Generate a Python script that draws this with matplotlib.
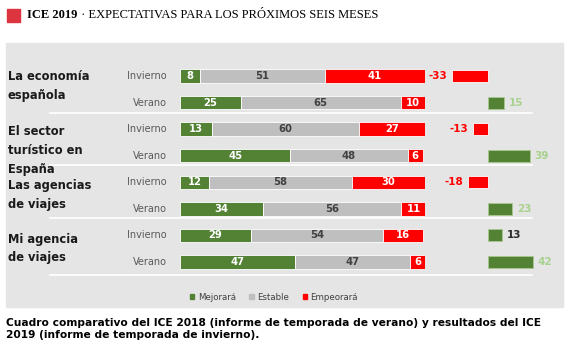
import numpy as np
import matplotlib.pyplot as plt
from matplotlib.patches import Rectangle, Patch
from matplotlib.lines import Line2D

# Data
groups = ["La economía\nespañola", "El sector\nturístico en\nEspaña",
          "Las agencias\nde viajes", "Mi agencia\nde viajes"]
seasons = ["Invierno", "Verano"]
mejorara = [8, 25, 13, 45, 12, 34, 29, 47]
estable = [51, 65, 60, 48, 58, 56, 54, 47]
empeorara = [41, 10, 27, 6, 30, 11, 16, 6]
saldo = [-33, 15, -13, 39, -18, 23, 13, 42]

W, H = 567, 353
green = "#548235"
grey = "#bfbfbf"
red = "#ff0000"

fig = plt.figure(figsize=(W / 100, H / 100), dpi=100)

def fx(px):
    return px / W

def fy(py):
    return 1 - py / H

# grey panel behind the chart
fig.add_artist(Rectangle((fx(6), fy(307)), fx(563) - fx(6), fy(43) - fy(307),
                         transform=fig.transFigure, color="#e6e5e6", zorder=0))

# title with red square
fig.add_artist(Rectangle((fx(7), fy(22)), fx(13), 13 / H,
                         transform=fig.transFigure, color="#dc3540", zorder=1))
fig.text(fx(27), fy(15.5), "ICE 2019", fontsize=9, fontweight="bold",
         family="Liberation Serif", va="center")
fig.text(fx(78), fy(15.5), " · EXPECTATIVAS PARA LOS PRÓXIMOS SEIS MESES",
         fontsize=9, family="Liberation Serif", va="center")

# stacked bars: 0-100 maps to pixels 180..425, rows between y 62.7..275.3
rows = np.arange(len(mejorara))
top, bottom = 62.7, 275.3
ax = fig.add_axes([fx(180), fy(bottom), fx(425) - fx(180), (bottom - top) / H])
ax.set_xlim(0, 100)
ax.set_ylim(len(rows) - 0.5, -0.5)
ax.axis("off")

mej = np.array(mejorara)
est = np.array(estable)
emp = np.array(empeorara)
h = 0.5
ax.barh(rows, mej, height=h, color=green, edgecolor="white", linewidth=0.6)
ax.barh(rows, est, left=mej, height=h, color=grey, edgecolor="white", linewidth=0.6)
ax.barh(rows, emp, left=mej + est, height=h, color=red, edgecolor="white", linewidth=0.6)

for i in rows:
    ax.text(mej[i] / 2, i, str(mej[i]), ha="center", va="center",
            color="white", fontsize=7.2, fontweight="bold")
    ax.text(mej[i] + est[i] / 2, i, str(est[i]), ha="center", va="center",
            color="#404040", fontsize=7.2, fontweight="bold")
    ax.text(mej[i] + est[i] + emp[i] / 2, i, str(emp[i]), ha="center", va="center",
            color="white", fontsize=7.2, fontweight="bold")

# net balance bars, zero at x=487.5, 1.08 px per point
x0, x1 = -40, 45
left_px = 487.5 + x0 * 1.08
ax2 = fig.add_axes([fx(left_px), fy(bottom), (x1 - x0) * 1.08 / W, (bottom - top) / H])
ax2.set_xlim(x0, x1)
ax2.set_ylim(len(rows) - 0.5, -0.5)
ax2.axis("off")
s = np.array(saldo)
ax2.barh(rows, s, height=0.45, color=[red if v < 0 else green for v in s],
         edgecolor=["white" if v < 0 else "#a9c98f" for v in s], linewidth=0.6)
for i in rows:
    v = s[i]
    if v < 0:
        ax2.text(v - 4.5, i, str(v), ha="right", va="center", color=red,
                 fontsize=7.5, fontweight="bold")
    else:
        col = "#a9d18e" if i % 2 == 1 else "#2b2b2b"
        ax2.text(v + 4.5, i, str(v), ha="left", va="center", color=col,
                 fontsize=7.5, fontweight="bold")

# group labels and season labels
group_y = [86, 150.5, 195, 248.5]
for g, yy in zip(groups, group_y):
    fig.text(fx(8), fy(yy), g, fontsize=8.3, fontweight="bold", va="center",
             ha="left", color="#1a1a1a", linespacing=1.6)
for i in rows:
    yy = top + (i + 0.5) * (bottom - top) / len(rows)
    fig.text(fx(167), fy(yy), seasons[i % 2], fontsize=7, ha="right",
             va="center", color="#595959")

# white separator lines between groups
for yy in [113, 165, 218, 275]:
    fig.add_artist(Line2D([fx(50), fx(532)], [fy(yy), fy(yy)],
                          transform=fig.transFigure, color="white", lw=1.2))

# legend
handles = [Patch(color=green), Patch(color=grey), Patch(color=red)]
fig.legend(handles, ["Mejorará", "Estable", "Empeorará"], loc="center",
           bbox_to_anchor=(fx(274), fy(297.5)), ncol=3, frameon=False,
           fontsize=6.2, handlelength=0.5, handleheight=0.5, handletextpad=0.4,
           columnspacing=1.6, labelcolor="#404040")

# caption
fig.text(fx(6), fy(328.5), "Cuadro comparativo del ICE 2018 (informe de temporada de verano) y resultados del ICE\n"
         "2019 (informe de temporada de invierno).", fontsize=7.7, fontweight="bold",
         va="center", ha="left", linespacing=1.25)

fig.savefig("out.png", dpi=100)
